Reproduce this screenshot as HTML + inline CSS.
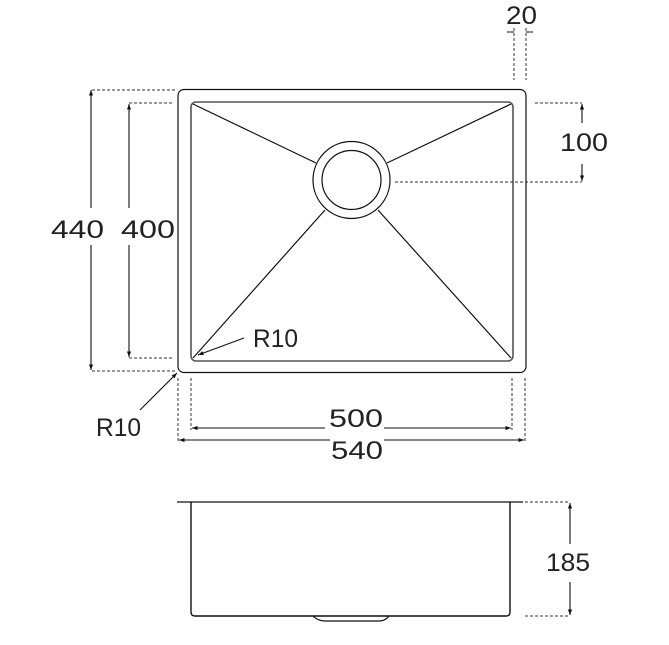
<!DOCTYPE html>
<html><head><style>
html,body{margin:0;padding:0;background:#fff;}
svg{display:block;}
text{font-family:"Liberation Sans",sans-serif;font-size:25px;fill:#222;}
</style></head><body>
<svg width="669" height="645" viewBox="0 0 669 645" xmlns="http://www.w3.org/2000/svg">
<defs>
<marker id="a" viewBox="0 0 8 8" refX="8" refY="4" markerWidth="5" markerHeight="5" orient="auto-start-reverse"><path d="M0,1 L8,4 L0,7z" fill="#111"/></marker>
</defs>
<g fill="none" stroke="#111" stroke-width="1.2">
<rect x="178" y="89.5" width="348" height="283" rx="6"/>
<rect x="191" y="102" width="322" height="259" rx="5" stroke="#555" stroke-width="1.6"/>
<circle cx="351.5" cy="180" r="38.5"/>
<circle cx="351.5" cy="180" r="29.5"/>
<line x1="193" y1="104" x2="316" y2="163"/>
<line x1="511" y1="104" x2="387" y2="163"/>
<line x1="193" y1="358" x2="325" y2="210"/>
<line x1="511" y1="358" x2="378" y2="210"/>
</g>
<g fill="none" stroke="#333" stroke-width="1" stroke-dasharray="3,2">
<path d="M92,90 H176 M129,103 H172 M129,358 H172 M92,371 H176"/>
<path d="M178,378 V442 M191,378 V430 M512,378 V430 M525,378 V442"/>
<path d="M514,28 V80 M526,28 V80"/>
<path d="M535,103 H582 M395,182 H582"/>
<path d="M525,502 H568 M525,616 H568"/>
</g>
<g stroke="#111" stroke-width="1.1" fill="none">
<line x1="91" y1="90" x2="91" y2="208" marker-start="url(#a)"/>
<line x1="91" y1="245" x2="91" y2="370" marker-end="url(#a)"/>
<line x1="129" y1="104" x2="129" y2="208" marker-start="url(#a)"/>
<line x1="129" y1="245" x2="129" y2="357" marker-end="url(#a)"/>
<line x1="192" y1="428" x2="325" y2="428" marker-start="url(#a)"/>
<line x1="384" y1="428" x2="511" y2="428" marker-end="url(#a)"/>
<line x1="179" y1="440" x2="330" y2="440" marker-start="url(#a)"/>
<line x1="384" y1="440" x2="524" y2="440" marker-end="url(#a)"/>
<line x1="582" y1="104" x2="582" y2="123" marker-start="url(#a)"/>
<line x1="582" y1="164" x2="582" y2="181" marker-end="url(#a)"/>
<line x1="570" y1="503" x2="570" y2="544" marker-start="url(#a)"/>
<line x1="570" y1="582" x2="570" y2="615" marker-end="url(#a)"/>
<path d="M507,32 H514 M533,32 H526"/>
<line x1="140" y1="410" x2="177" y2="373" marker-end="url(#a)"/>
<line x1="244" y1="338" x2="198" y2="355" marker-end="url(#a)"/>
</g>
<text x="51" y="238" textLength="53" lengthAdjust="spacingAndGlyphs">440</text>
<text x="121" y="238" textLength="54" lengthAdjust="spacingAndGlyphs">400</text>
<text x="253" y="347" textLength="45" lengthAdjust="spacingAndGlyphs">R10</text>
<text x="96" y="436" textLength="45" lengthAdjust="spacingAndGlyphs">R10</text>
<text x="329" y="427" textLength="54" lengthAdjust="spacingAndGlyphs">500</text>
<text x="331" y="459" textLength="52" lengthAdjust="spacingAndGlyphs">540</text>
<text x="506" y="24" textLength="31" lengthAdjust="spacingAndGlyphs">20</text>
<text x="560" y="151" textLength="48" lengthAdjust="spacingAndGlyphs">100</text>
<text x="546" y="571" textLength="44" lengthAdjust="spacingAndGlyphs">185</text>
<g fill="none" stroke="#111" stroke-width="1.2">
<line x1="177" y1="502" x2="523" y2="502"/>
<path d="M191,502 V612 Q191,616 195,616 H506 Q510,616 510,612 V502" stroke-width="1.4"/>
<path d="M313,616 Q318,621 325,621 H379 Q385,621 389,616"/>
</g>
</svg>
</body></html>
